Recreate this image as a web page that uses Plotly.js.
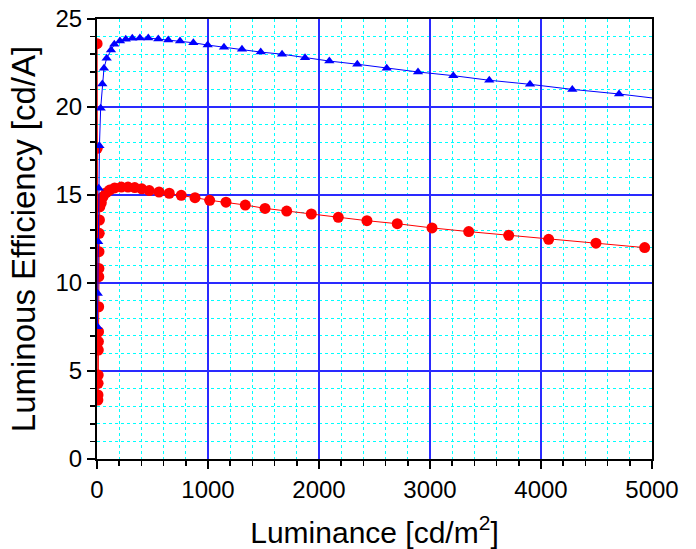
<!DOCTYPE html>
<html>
<head>
<meta charset="utf-8">
<script src="https://cdn.plot.ly/plotly-3.0.1.min.js"></script>
<style>html,body{margin:0;padding:0;background:#fff;}#chart{width:696px;height:549px;}</style>
</head>
<body>
<div id="chart"></div>
<script>
// Red circles series (luminance cd/m2, efficiency cd/A)
const redLum = [1, 2, 8, 9, 10, 11, 12, 13, 14, 15, 16, 17, 18, 20, 22, 25, 39, 54, 84, 114, 159, 219, 279, 340, 403, 471, 559, 651, 759, 883, 1015, 1162, 1336, 1514, 1709, 1931, 2174, 2432, 2705, 3018, 3349, 3709, 4069, 4495, 4934];
const redEff = [23.6, 17.65, 3.35, 3.64, 4.3, 4.77, 6.19, 6.67, 7.23, 8.65, 10.36, 10.83, 11.78, 12.82, 13.58, 14.33, 14.56, 14.9, 15.13, 15.28, 15.4, 15.45, 15.45, 15.42, 15.35, 15.25, 15.17, 15.1, 14.98, 14.85, 14.7, 14.59, 14.43, 14.24, 14.09, 13.92, 13.73, 13.54, 13.37, 13.13, 12.92, 12.71, 12.48, 12.26, 12.01];

// Blue triangles series
const blueLum = [4, 7, 11, 16, 22, 33, 48, 63, 87, 126, 156, 207, 259, 318, 387, 462, 552, 642, 748, 868, 997, 1144, 1306, 1475, 1667, 1874, 2093, 2345, 2610, 2892, 3210, 3534, 3901, 4282, 4703, 5060];
const blueEff = [7.52, 9.41, 12.35, 15.38, 17.8, 19.93, 21.3, 22.2, 22.77, 23.24, 23.56, 23.75, 23.85, 23.9, 23.92, 23.92, 23.86, 23.8, 23.75, 23.65, 23.52, 23.39, 23.28, 23.12, 23.0, 22.8, 22.61, 22.43, 22.2, 21.99, 21.78, 21.52, 21.29, 21.0, 20.74, 20.47];

const xTickVals = [0, 1000, 2000, 3000, 4000, 5000];
const yTickVals = [0, 5, 10, 15, 20, 25];

const FONT = 'Liberation Sans, Arial, sans-serif';

const traces = [
  {
    x: redLum, y: redEff, type: 'scatter', mode: 'lines+markers',
    line: {color: '#ff0000', width: 1},
    marker: {symbol: 'circle', size: 11, color: '#ff0000'},
    showlegend: false
  },
  {
    x: blueLum, y: blueEff, type: 'scatter', mode: 'lines+markers',
    line: {color: '#0000ff', width: 1},
    marker: {symbol: 'triangle-up', size: 9, color: '#0000ff'},
    showlegend: false
  }
];

const layout = {
  width: 696, height: 549,
  margin: {l: 97, r: 44, t: 19, b: 90},
  paper_bgcolor: '#ffffff', plot_bgcolor: '#ffffff',
  font: {family: FONT, color: '#000'},
  xaxis: {
    range: [0, 5000], tickvals: xTickVals,
    ticks: 'outside', ticklen: 8, tickwidth: 1.5, tickcolor: '#000',
    tickfont: {size: 24, family: FONT, color: '#000'},
    showline: true, linecolor: '#000', linewidth: 2, mirror: true,
    showgrid: true, gridcolor: '#2a2aff', gridwidth: 1.5,
    zeroline: false,
    minor: {dtick: 200, ticks: 'outside', ticklen: 5, tickwidth: 1.5, tickcolor: '#000',
            showgrid: true, gridcolor: '#00ffff', griddash: 'dot', gridwidth: 1.3},
    title: {text: 'Luminance [cd/m<sup>2</sup>]', font: {size: 30, family: FONT, color: '#000'}, standoff: 20}
  },
  yaxis: {
    range: [0, 25], tickvals: yTickVals,
    ticks: 'outside', ticklen: 8, tickwidth: 1.5, tickcolor: '#000',
    tickfont: {size: 24, family: FONT, color: '#000'},
    showline: true, linecolor: '#000', linewidth: 2, mirror: true,
    showgrid: true, gridcolor: '#2a2aff', gridwidth: 1.5,
    zeroline: false,
    minor: {dtick: 1, ticks: 'outside', ticklen: 5, tickwidth: 1.5, tickcolor: '#000',
            showgrid: true, gridcolor: '#00ffff', griddash: 'dot', gridwidth: 1.3},
    title: {text: 'Luminous Efficiency [cd/A]', font: {size: 33, family: FONT, color: '#000'}, standoff: 10}
  }
};

Plotly.newPlot('chart', traces, layout, {displayModeBar: false, staticPlot: true});
</script>
</body>
</html>
